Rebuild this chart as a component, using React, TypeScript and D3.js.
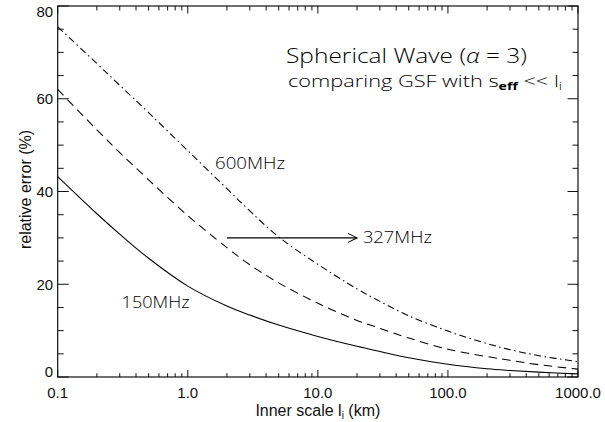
import React from 'react';
import * as d3 from 'd3';

const innerScale = [0.1, 0.2, 0.3, 0.5, 1, 2, 3, 5, 10, 20, 30, 50, 100, 200, 300, 500, 1000];
const err150 = [43.2, 35.2, 30.8, 25.6, 19.6, 15.3, 13.35, 11.2, 8.75, 6.63, 5.51, 4.15, 2.75, 1.79, 1.42, 1.05, 0.67];
const err327 = [62, 53.3, 48.4, 42.5, 34.8, 27.9, 24.2, 20.3, 15.9, 12.2, 10.5, 8.4, 6.0, 4.4, 3.6, 2.65, 1.7];
const err600 = [75.5, 67.6, 62.9, 57.0, 48.8, 40.6, 35.8, 30.2, 24.3, 19.0, 16.3, 13.2, 9.9, 7.2, 5.9, 4.6, 3.3];

const xTickValues = [0.1, 1, 10, 100, 1000];
const xTickLabels = ['0.1', '1.0', '10.0', '100.0', '1000.0'];
const yTickValues = [0, 20, 40, 60, 80];
const yTickLabels = ['0', '20', '40', '60', '80'];
const seriesNames = ['150MHz', '327MHz', '600MHz'];

const W = 605;
const H = 422;
const L = 57.7;
const R = 578;
const T = 6;
const B = 377;

const tickFont = '"Liberation Sans", Arial, sans-serif';
const annFont = '"Open Sans", "DejaVu Sans", sans-serif';

export default function App() {
  const x = d3.scaleLog().domain([0.1, 1000]).range([L, R]);
  const y = d3.scaleLinear().domain([0, 80]).range([B, T]);

  const line = d3
    .line<[number, number]>()
    .x((d) => x(d[0]))
    .y((d) => y(d[1]))
    .curve(d3.curveCatmullRom.alpha(0.5));

  const mk = (vals: number[]) => innerScale.map((v, i) => [v, vals[i]] as [number, number]);

  const xMinor: number[] = [];
  [0.1, 1, 10, 100].forEach((d) => {
    for (let k = 2; k <= 9; k++) xMinor.push(d * k);
  });
  const yMinor = d3.range(5, 80, 5).filter((v) => v % 20 !== 0);

  const stroke = '#111';
  const arrowY = y(30);
  const ax0 = x(2);
  const ax1 = x(20);

  return (
    <svg
      width={W}
      height={H}
      viewBox={`0 0 ${W} ${H}`}
      style={{ position: 'absolute', left: 0, top: 0, background: '#fff' }}
    >
      <rect x={0} y={0} width={W} height={H} fill="#fff" />
      <rect x={L} y={T} width={R - L} height={B - T} fill="none" stroke={stroke} strokeWidth={1.2} />

      {xTickValues.map((v) => (
        <g key={'xM' + v}>
          <line x1={x(v)} x2={x(v)} y1={B} y2={B - 7} stroke={stroke} strokeWidth={1} />
          <line x1={x(v)} x2={x(v)} y1={T} y2={T + 7.5} stroke={stroke} strokeWidth={1} />
        </g>
      ))}
      {xMinor.map((v) => (
        <g key={'xm' + v}>
          <line x1={x(v)} x2={x(v)} y1={B} y2={B - 3.8} stroke={stroke} strokeWidth={1} />
          <line x1={x(v)} x2={x(v)} y1={T} y2={T + 4.5} stroke={stroke} strokeWidth={1} />
        </g>
      ))}
      {yTickValues.map((v) => (
        <g key={'yM' + v}>
          <line x1={L} x2={L + 11} y1={y(v)} y2={y(v)} stroke={stroke} strokeWidth={1} />
          <line x1={R} x2={R - 10.5} y1={y(v)} y2={y(v)} stroke={stroke} strokeWidth={1} />
        </g>
      ))}
      {yMinor.map((v) => (
        <g key={'ym' + v}>
          <line x1={L} x2={L + 6} y1={y(v)} y2={y(v)} stroke={stroke} strokeWidth={1} />
          <line x1={R} x2={R - 5.5} y1={y(v)} y2={y(v)} stroke={stroke} strokeWidth={1} />
        </g>
      ))}

      {xTickValues.map((v, i) => (
        <text key={'xl' + v} x={x(v)} y={398.3} textAnchor="middle" fontFamily={tickFont} fontSize={15} fill="#111">
          {xTickLabels[i]}
        </text>
      ))}
      {yTickValues.map((v, i) => {
        const base = Math.min(B, Math.max(T + 10.7, y(v) + 5.4));
        return (
          <text key={'yl' + v} x={L - 4.5} y={base} textAnchor="end" fontFamily={tickFont} fontSize={15} fill="#111">
            {yTickLabels[i]}
          </text>
        );
      })}

      <text x={(L + R) / 2} y={415.5} textAnchor="middle" fontFamily={tickFont} fontSize={16} fill="#111">
        Inner scale l
        <tspan fontSize={10} dy={3}>i</tspan>
        <tspan dy={-3}> (km)</tspan>
      </text>
      <text
        transform={`translate(31,${(T + B) / 2 - 2}) rotate(-90)`}
        textAnchor="middle"
        fontFamily={tickFont}
        fontSize={16}
        fill="#111"
      >
        relative error (%)
      </text>

      <path d={line(mk(err150)) || ''} fill="none" stroke="#000" strokeWidth={1.05} />
      <path d={line(mk(err327)) || ''} fill="none" stroke="#000" strokeWidth={1.05} strokeDasharray="8.5,5.5" />
      <path d={line(mk(err600)) || ''} fill="none" stroke="#000" strokeWidth={1.05} strokeDasharray="7,3.5,1.5,3.5" />

      <line x1={ax0} x2={ax1} y1={arrowY} y2={arrowY} stroke="#000" strokeWidth={1.05} />
      <polyline
        points={`${ax1 - 9},${arrowY - 4.5} ${ax1},${arrowY} ${ax1 - 9},${arrowY + 4.5}`}
        fill="none"
        stroke="#000"
        strokeWidth={1.05}
      />

      <text x={x(0.31)} y={y(14.9)} fontFamily={annFont} fontWeight={300} fontSize={16.5} fill="#000" textLength={68} lengthAdjust="spacingAndGlyphs">
        {seriesNames[0]}
      </text>
      <text x={x(22.2)} y={y(28.9)} fontFamily={annFont} fontWeight={300} fontSize={16.5} fill="#000" textLength={69} lengthAdjust="spacingAndGlyphs">
        {seriesNames[1]}
      </text>
      <text x={x(1.62)} y={y(44.8)} fontFamily={annFont} fontWeight={300} fontSize={16.5} fill="#000" textLength={70} lengthAdjust="spacingAndGlyphs">
        {seriesNames[2]}
      </text>

      <text x={286} y={62.7} fontFamily={annFont} fontWeight={300} fontSize={20} fill="#000" textLength={241} lengthAdjust="spacingAndGlyphs">
        Spherical Wave (<tspan fontStyle="italic">α</tspan> = 3)
      </text>
      <text x={288} y={86.7} fontFamily={annFont} fontWeight={300} fontSize={15.5} fill="#000" textLength={274} lengthAdjust="spacingAndGlyphs">
        comparing GSF with s
        <tspan fontSize={10} fontWeight="bold" dy={3}>eff</tspan>
        <tspan dy={-3}> {'<<'} l</tspan>
        <tspan fontSize={10} dy={3}>i</tspan>
      </text>
    </svg>
  );
}
